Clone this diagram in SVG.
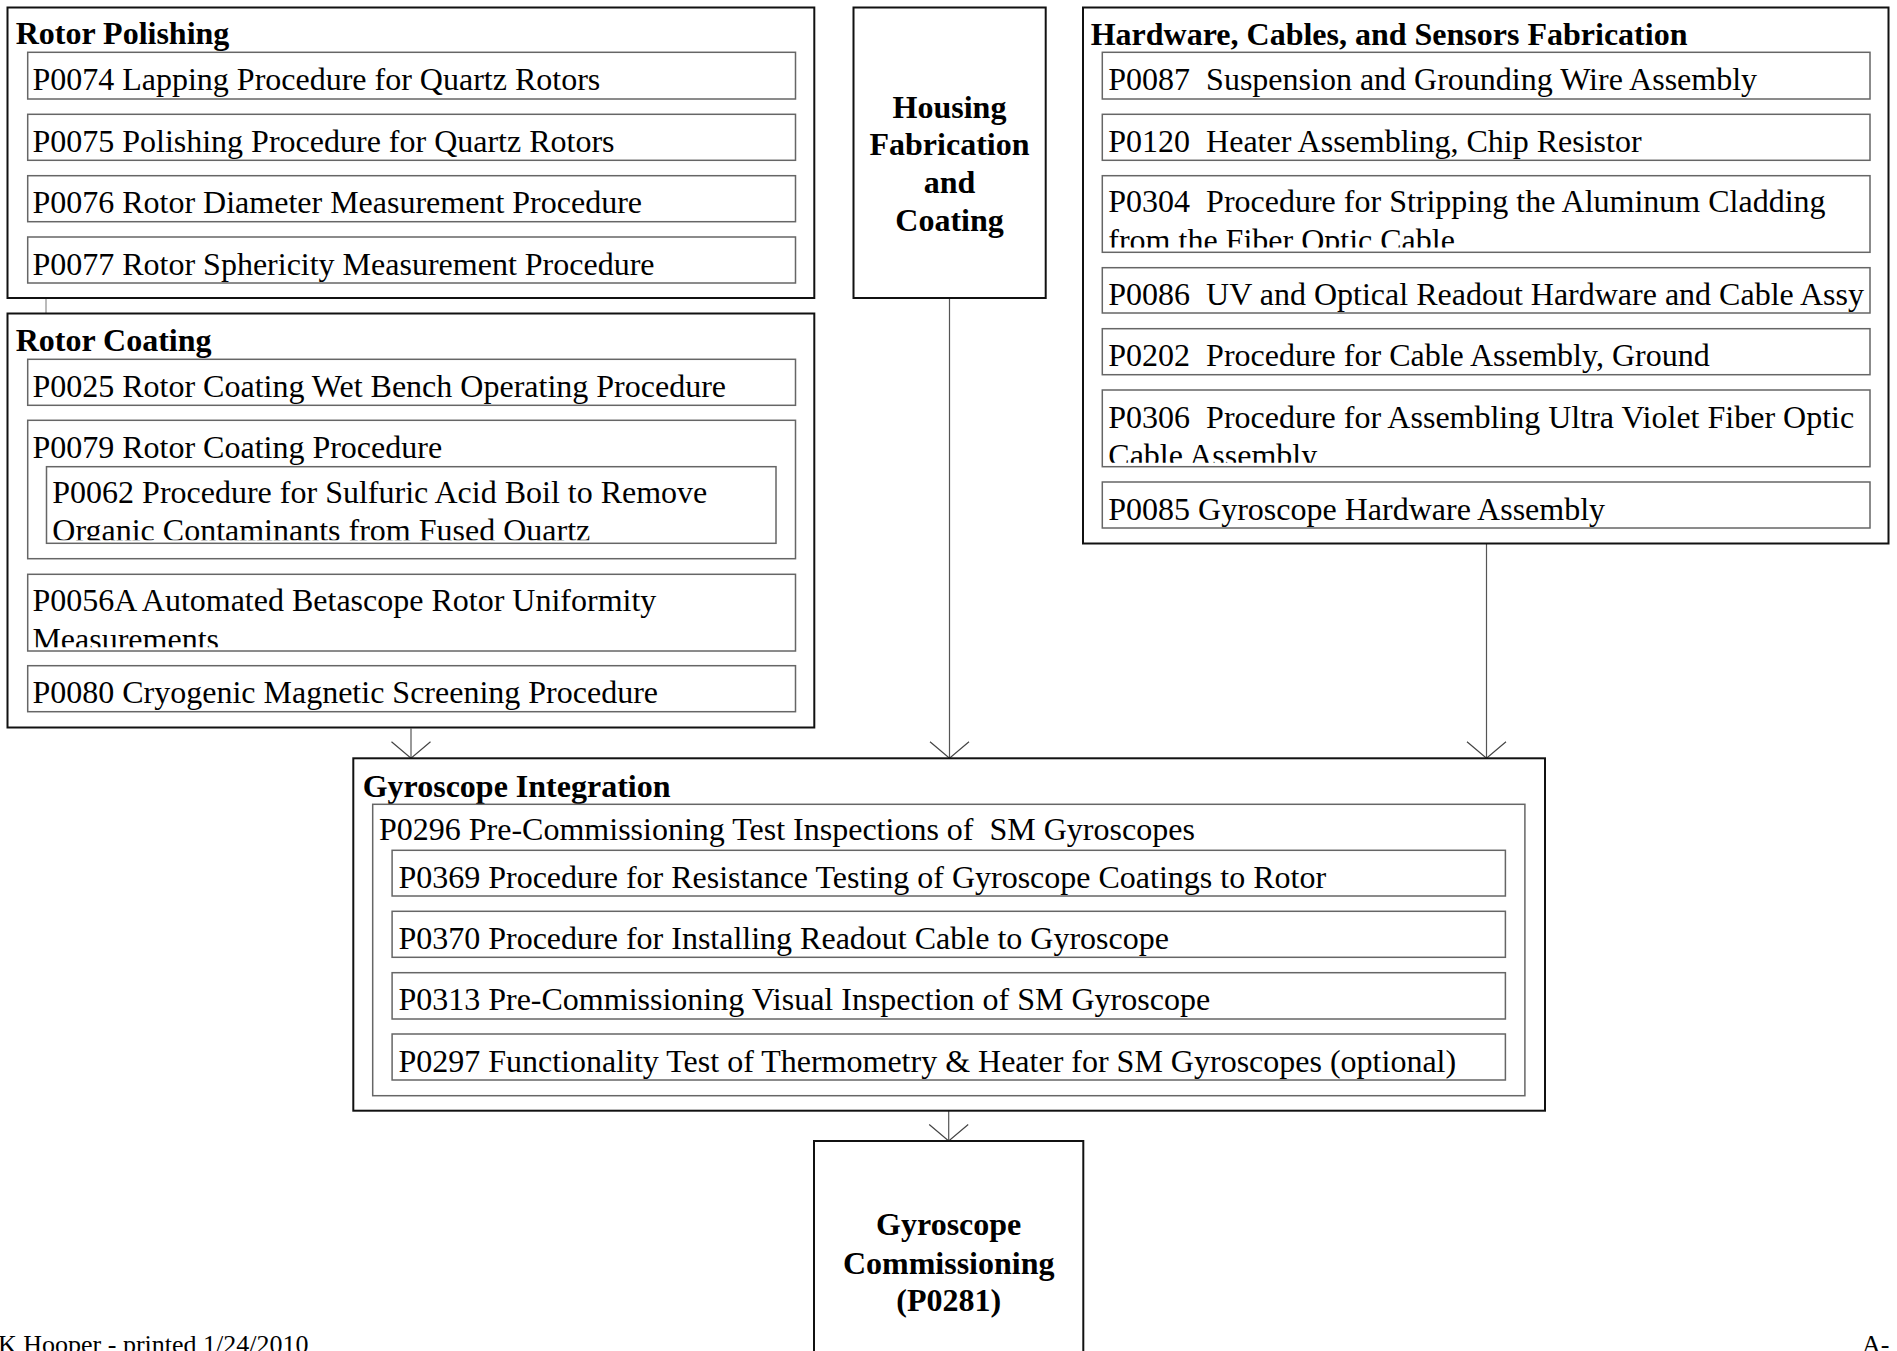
<svg xmlns="http://www.w3.org/2000/svg" width="1897" height="1351" viewBox="0 0 1897 1351">
<defs>
<style>
.outer{fill:#fff;stroke:#111;stroke-width:2}
.inner{fill:#fff;stroke:#666;stroke-width:1.5}
.t{font-family:"Liberation Serif","Times New Roman",serif;font-size:32px;fill:#000}
.b{font-family:"Liberation Serif","Times New Roman",serif;font-size:32px;font-weight:bold;fill:#000}
.c{text-anchor:middle}
.foot{font-family:"Liberation Serif","Times New Roman",serif;font-size:26px;fill:#000}
.link{stroke:#777;stroke-width:1;fill:none}
.arrow{stroke:#555;stroke-width:1.2;fill:none;marker-end:url(#v)}
</style>
<marker id="v" viewBox="0 0 17 40" markerUnits="userSpaceOnUse" markerWidth="17" markerHeight="40" refX="16.5" refY="20" orient="auto" overflow="visible">
<path d="M0,0.5 L16.5,20 L0,39.5" fill="none" stroke="#444" stroke-width="1.2"/>
</marker>
<clipPath id="cP0062"><rect x="46.5" y="466.7" width="729.5" height="73.5"/></clipPath>
<clipPath id="cP0056A"><rect x="27.7" y="574.3" width="767.8" height="73"/></clipPath>
<clipPath id="cP0304"><rect x="1102.3" y="175.7" width="767.7" height="71.8"/></clipPath>
<clipPath id="cP0306"><rect x="1102.3" y="390" width="767.7" height="72.7"/></clipPath>
</defs>

<g id="connectors">
<line class="link" x1="46" y1="99" x2="46" y2="114.3"/>
<line class="link" x1="46" y1="160.3" x2="46" y2="175.7"/>
<line class="link" x1="46" y1="221.7" x2="46" y2="237"/>
<line class="link" x1="46" y1="298" x2="46" y2="313.5"/>
<line class="link" x1="46" y1="405.3" x2="46" y2="420.3"/>
<line class="link" x1="46" y1="558.7" x2="46" y2="574.3"/>
<line class="link" x1="46" y1="651" x2="46" y2="665.7"/>
<line class="link" x1="1121.7" y1="99" x2="1121.7" y2="114.3"/>
<line class="link" x1="1121.7" y1="160.3" x2="1121.7" y2="175.7"/>
<line class="link" x1="1121.7" y1="252.3" x2="1121.7" y2="267.7"/>
<line class="link" x1="1121.7" y1="313" x2="1121.7" y2="328.7"/>
<line class="link" x1="1121.7" y1="374.7" x2="1121.7" y2="390"/>
<line class="link" x1="1121.7" y1="466.7" x2="1121.7" y2="482"/>
<line class="link" x1="411.6" y1="896" x2="411.6" y2="911.3"/>
<line class="link" x1="411.6" y1="957.3" x2="411.6" y2="972.7"/>
<line class="link" x1="411.6" y1="1019" x2="411.6" y2="1034"/>
<line class="arrow" x1="411" y1="728.5" x2="411" y2="758.3"/>
<line class="arrow" x1="949.5" y1="298" x2="949.5" y2="758.3"/>
<line class="arrow" x1="1486.5" y1="543.5" x2="1486.5" y2="758.3"/>
<line class="arrow" x1="948.7" y1="1111" x2="948.7" y2="1141"/>
</g>

<g id="rotor-polishing">
<rect class="outer" x="7.5" y="7.5" width="806.8" height="290.5"/>
<text class="b" x="15.7" y="44.3">Rotor Polishing</text>
<g id="P0074"><rect class="inner" x="27.7" y="52.3" width="767.8" height="46.7"/><text class="t" x="32.4" y="89.8">P0074 Lapping Procedure for Quartz Rotors</text></g>
<g id="P0075"><rect class="inner" x="27.7" y="114.3" width="767.8" height="46"/><text class="t" x="32.4" y="151.8">P0075 Polishing Procedure for Quartz Rotors</text></g>
<g id="P0076"><rect class="inner" x="27.7" y="175.7" width="767.8" height="46"/><text class="t" x="32.4" y="213.2">P0076 Rotor Diameter Measurement Procedure</text></g>
<g id="P0077"><rect class="inner" x="27.7" y="237" width="767.8" height="46"/><text class="t" x="32.4" y="274.5">P0077 Rotor Sphericity Measurement Procedure</text></g>
</g>

<g id="rotor-coating">
<rect class="outer" x="7.5" y="313.5" width="806.8" height="414"/>
<text class="b" x="15.7" y="351.3">Rotor Coating</text>
<g id="P0025"><rect class="inner" x="27.7" y="359.3" width="767.8" height="46"/><text class="t" x="32.4" y="396.8">P0025 Rotor Coating Wet Bench Operating Procedure</text></g>
<g id="P0079"><rect class="inner" x="27.7" y="420.3" width="767.8" height="138.4"/><text class="t" x="32.4" y="457.5">P0079 Rotor Coating Procedure</text>
<g id="P0062"><rect class="inner" x="46.5" y="466.7" width="729.5" height="76.6"/>
<text class="t" x="52.3" y="502.7" clip-path="url(#cP0062)">P0062 Procedure for Sulfuric Acid Boil to Remove<tspan x="52.3" y="540.8">Organic Contaminants from Fused Quartz</tspan></text></g>
</g>
<g id="P0056A"><rect class="inner" x="27.7" y="574.3" width="767.8" height="76.7"/>
<text class="t" x="32.4" y="611.2" clip-path="url(#cP0056A)">P0056A Automated Betascope Rotor Uniformity<tspan x="32.4" y="649.5">Measurements</tspan></text></g>
<g id="P0080"><rect class="inner" x="27.7" y="665.7" width="767.8" height="46"/><text class="t" x="32.4" y="702.7">P0080 Cryogenic Magnetic Screening Procedure</text></g>
</g>

<g id="housing">
<rect class="outer" x="853.5" y="7.5" width="192.2" height="290.5"/>
<text class="b c" x="949.5" y="117.7">Housing</text>
<text class="b c" x="949.5" y="155.3">Fabrication</text>
<text class="b c" x="949.5" y="193.3">and</text>
<text class="b c" x="949.5" y="231">Coating</text>
</g>

<g id="hardware">
<rect class="outer" x="1083" y="7.5" width="805.5" height="536"/>
<text class="b" x="1090.7" y="44.6">Hardware, Cables, and Sensors Fabrication</text>
<g id="P0087"><rect class="inner" x="1102.3" y="52.3" width="767.7" height="46.7"/><text class="t" x="1108.3" y="89.8" xml:space="preserve">P0087  Suspension and Grounding Wire Assembly</text></g>
<g id="P0120"><rect class="inner" x="1102.3" y="114.3" width="767.7" height="46"/><text class="t" x="1108.3" y="151.8" xml:space="preserve">P0120  Heater Assembling, Chip Resistor</text></g>
<g id="P0304"><rect class="inner" x="1102.3" y="175.7" width="767.7" height="76.6"/>
<text class="t" x="1108.3" y="212.2" clip-path="url(#cP0304)" xml:space="preserve">P0304  Procedure for Stripping the Aluminum Cladding<tspan x="1108.3" y="250.5">from the Fiber Optic Cable</tspan></text></g>
<g id="P0086"><rect class="inner" x="1102.3" y="267.7" width="767.7" height="45.3"/><text class="t" x="1108.3" y="305" xml:space="preserve">P0086  UV and Optical Readout Hardware and Cable Assy</text></g>
<g id="P0202"><rect class="inner" x="1102.3" y="328.7" width="767.7" height="46"/><text class="t" x="1108.3" y="366.2" xml:space="preserve">P0202  Procedure for Cable Assembly, Ground</text></g>
<g id="P0306"><rect class="inner" x="1102.3" y="390" width="767.7" height="76.7"/>
<text class="t" x="1108.3" y="427.5" clip-path="url(#cP0306)" xml:space="preserve">P0306  Procedure for Assembling Ultra Violet Fiber Optic<tspan x="1108.3" y="466">Cable Assembly</tspan></text></g>
<g id="P0085"><rect class="inner" x="1102.3" y="482" width="767.7" height="46"/><text class="t" x="1108.3" y="519.5">P0085 Gyroscope Hardware Assembly</text></g>
</g>

<g id="integration">
<rect class="outer" x="353.3" y="758.3" width="1191.7" height="352.4"/>
<text class="b" x="362.7" y="796.5">Gyroscope Integration</text>
<g id="P0296"><rect class="inner" x="372.7" y="804.3" width="1152.2" height="291.4"/>
<text class="t" x="379" y="840" xml:space="preserve">P0296 Pre-Commissioning Test Inspections of  SM Gyroscopes</text>
<g id="P0369"><rect class="inner" x="392.1" y="850.3" width="1113.3" height="45.7"/><text class="t" x="398.4" y="887.7">P0369 Procedure for Resistance Testing of Gyroscope Coatings to Rotor</text></g>
<g id="P0370"><rect class="inner" x="392.1" y="911.3" width="1113.3" height="46"/><text class="t" x="398.4" y="949">P0370 Procedure for Installing Readout Cable to Gyroscope</text></g>
<g id="P0313"><rect class="inner" x="392.1" y="972.7" width="1113.3" height="46.3"/><text class="t" x="398.4" y="1010.3">P0313 Pre-Commissioning Visual Inspection of SM Gyroscope</text></g>
<g id="P0297"><rect class="inner" x="392.1" y="1034" width="1113.3" height="46"/><text class="t" x="398.4" y="1071.6">P0297 Functionality Test of Thermometry &amp; Heater for SM Gyroscopes (optional)</text></g>
</g>
</g>

<g id="commissioning">
<rect class="outer" x="814" y="1141" width="269.3" height="240"/>
<text class="b c" x="948.7" y="1235">Gyroscope</text>
<text class="b c" x="948.7" y="1273.5">Commissioning</text>
<text class="b c" x="948.7" y="1311">(P0281)</text>
</g>

<g id="footer">
<text class="foot" x="-2" y="1353">K Hooper - printed 1/24/2010</text>
<text class="foot" x="1862" y="1353">A-</text>
</g>
</svg>
